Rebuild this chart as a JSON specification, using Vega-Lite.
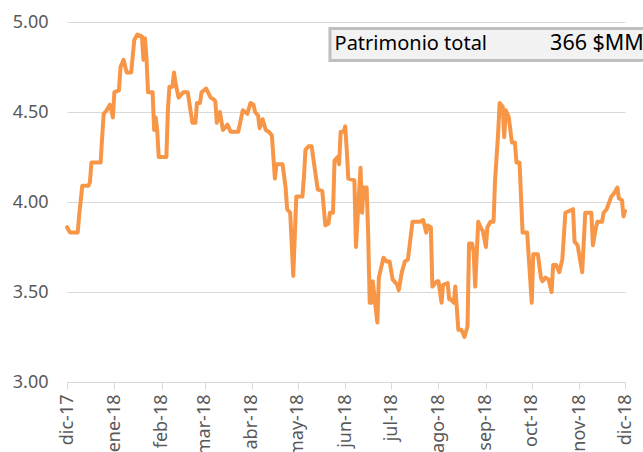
{
  "$schema": "https://vega.github.io/schema/vega-lite/v6.json",
  "width": 558,
  "height": 360,
  "autosize": {"type": "none"},
  "padding": {"left": 67, "top": 22, "right": 18, "bottom": 70},
  "background": "white",
  "config": {"view": {"stroke": null}, "font": "Noto Sans"},
  "datasets": {
    "serie": [
      {"fecha": "2017-12-01T00:00", "valor": 3.86},
      {"fecha": "2017-12-03T00:00", "valor": 3.83},
      {"fecha": "2017-12-08T00:00", "valor": 3.83},
      {"fecha": "2017-12-09T00:00", "valor": 3.93},
      {"fecha": "2017-12-10T00:00", "valor": 4.01},
      {"fecha": "2017-12-11T00:00", "valor": 4.09},
      {"fecha": "2017-12-15T00:00", "valor": 4.09},
      {"fecha": "2017-12-16T00:00", "valor": 4.11},
      {"fecha": "2017-12-17T00:00", "valor": 4.22},
      {"fecha": "2017-12-23T00:00", "valor": 4.22},
      {"fecha": "2017-12-24T00:00", "valor": 4.36},
      {"fecha": "2017-12-25T00:00", "valor": 4.49},
      {"fecha": "2017-12-27T00:00", "valor": 4.51},
      {"fecha": "2017-12-29T00:00", "valor": 4.54},
      {"fecha": "2017-12-30T00:00", "valor": 4.51},
      {"fecha": "2017-12-31T00:00", "valor": 4.47},
      {"fecha": "2018-01-01T00:00", "valor": 4.61},
      {"fecha": "2018-01-04T00:00", "valor": 4.62},
      {"fecha": "2018-01-05T00:00", "valor": 4.75},
      {"fecha": "2018-01-07T00:00", "valor": 4.79},
      {"fecha": "2018-01-09T00:00", "valor": 4.72},
      {"fecha": "2018-01-12T00:00", "valor": 4.72},
      {"fecha": "2018-01-14T00:00", "valor": 4.90},
      {"fecha": "2018-01-16T00:00", "valor": 4.93},
      {"fecha": "2018-01-19T00:00", "valor": 4.92},
      {"fecha": "2018-01-20T00:00", "valor": 4.79},
      {"fecha": "2018-01-21T00:00", "valor": 4.91},
      {"fecha": "2018-01-22T00:00", "valor": 4.80},
      {"fecha": "2018-01-23T00:00", "valor": 4.61},
      {"fecha": "2018-01-26T00:00", "valor": 4.61},
      {"fecha": "2018-01-27T00:00", "valor": 4.40},
      {"fecha": "2018-01-28T00:00", "valor": 4.47},
      {"fecha": "2018-01-29T00:00", "valor": 4.40},
      {"fecha": "2018-01-30T00:00", "valor": 4.25},
      {"fecha": "2018-02-04T00:00", "valor": 4.25},
      {"fecha": "2018-02-05T00:00", "valor": 4.51},
      {"fecha": "2018-02-06T00:00", "valor": 4.64},
      {"fecha": "2018-02-08T00:00", "valor": 4.64},
      {"fecha": "2018-02-09T00:00", "valor": 4.72},
      {"fecha": "2018-02-10T00:00", "valor": 4.66},
      {"fecha": "2018-02-12T00:00", "valor": 4.58},
      {"fecha": "2018-02-15T00:00", "valor": 4.61},
      {"fecha": "2018-02-18T00:00", "valor": 4.61},
      {"fecha": "2018-02-21T00:00", "valor": 4.44},
      {"fecha": "2018-02-23T00:00", "valor": 4.44},
      {"fecha": "2018-02-24T00:00", "valor": 4.55},
      {"fecha": "2018-02-26T00:00", "valor": 4.55},
      {"fecha": "2018-02-27T00:00", "valor": 4.61},
      {"fecha": "2018-03-02T00:00", "valor": 4.63},
      {"fecha": "2018-03-05T00:00", "valor": 4.58},
      {"fecha": "2018-03-07T00:00", "valor": 4.57},
      {"fecha": "2018-03-08T00:00", "valor": 4.56},
      {"fecha": "2018-03-09T00:00", "valor": 4.44},
      {"fecha": "2018-03-11T00:00", "valor": 4.50},
      {"fecha": "2018-03-13T00:00", "valor": 4.40},
      {"fecha": "2018-03-16T00:00", "valor": 4.43},
      {"fecha": "2018-03-18T00:00", "valor": 4.39},
      {"fecha": "2018-03-23T00:00", "valor": 4.39},
      {"fecha": "2018-03-26T00:00", "valor": 4.51},
      {"fecha": "2018-03-29T00:00", "valor": 4.49},
      {"fecha": "2018-03-31T00:00", "valor": 4.55},
      {"fecha": "2018-04-02T00:00", "valor": 4.54},
      {"fecha": "2018-04-03T00:00", "valor": 4.50},
      {"fecha": "2018-04-05T00:00", "valor": 4.48},
      {"fecha": "2018-04-06T00:00", "valor": 4.41},
      {"fecha": "2018-04-08T00:00", "valor": 4.46},
      {"fecha": "2018-04-10T00:00", "valor": 4.40},
      {"fecha": "2018-04-12T00:00", "valor": 4.39},
      {"fecha": "2018-04-14T00:00", "valor": 4.37},
      {"fecha": "2018-04-16T00:00", "valor": 4.13},
      {"fecha": "2018-04-17T00:00", "valor": 4.21},
      {"fecha": "2018-04-21T00:00", "valor": 4.21},
      {"fecha": "2018-04-23T00:00", "valor": 4.08},
      {"fecha": "2018-04-24T00:00", "valor": 3.96},
      {"fecha": "2018-04-26T00:00", "valor": 3.94},
      {"fecha": "2018-04-28T00:00", "valor": 3.59},
      {"fecha": "2018-04-30T00:00", "valor": 4.03},
      {"fecha": "2018-05-04T00:00", "valor": 4.03},
      {"fecha": "2018-05-05T00:00", "valor": 4.14},
      {"fecha": "2018-05-06T00:00", "valor": 4.29},
      {"fecha": "2018-05-08T00:00", "valor": 4.31},
      {"fecha": "2018-05-10T00:00", "valor": 4.31},
      {"fecha": "2018-05-12T00:00", "valor": 4.19},
      {"fecha": "2018-05-14T00:00", "valor": 4.07},
      {"fecha": "2018-05-17T00:00", "valor": 4.06},
      {"fecha": "2018-05-19T00:00", "valor": 3.87},
      {"fecha": "2018-05-21T00:00", "valor": 3.88},
      {"fecha": "2018-05-22T00:00", "valor": 3.94},
      {"fecha": "2018-05-24T00:00", "valor": 3.94},
      {"fecha": "2018-05-25T00:00", "valor": 4.23},
      {"fecha": "2018-05-27T00:00", "valor": 4.25},
      {"fecha": "2018-05-28T00:00", "valor": 4.21},
      {"fecha": "2018-05-29T00:00", "valor": 4.39},
      {"fecha": "2018-05-31T00:00", "valor": 4.39},
      {"fecha": "2018-06-01T00:00", "valor": 4.42},
      {"fecha": "2018-06-02T00:00", "valor": 4.29},
      {"fecha": "2018-06-03T00:00", "valor": 4.13},
      {"fecha": "2018-06-07T00:00", "valor": 4.12},
      {"fecha": "2018-06-08T00:00", "valor": 3.75},
      {"fecha": "2018-06-11T00:00", "valor": 4.19},
      {"fecha": "2018-06-12T00:00", "valor": 3.94},
      {"fecha": "2018-06-13T00:00", "valor": 4.08},
      {"fecha": "2018-06-15T00:00", "valor": 4.08},
      {"fecha": "2018-06-16T00:00", "valor": 3.82},
      {"fecha": "2018-06-17T00:00", "valor": 3.44},
      {"fecha": "2018-06-18T00:00", "valor": 3.44},
      {"fecha": "2018-06-19T00:00", "valor": 3.56},
      {"fecha": "2018-06-22T00:00", "valor": 3.33},
      {"fecha": "2018-06-23T00:00", "valor": 3.58},
      {"fecha": "2018-06-26T00:00", "valor": 3.69},
      {"fecha": "2018-06-28T00:00", "valor": 3.67},
      {"fecha": "2018-06-30T00:00", "valor": 3.67},
      {"fecha": "2018-07-02T00:00", "valor": 3.57},
      {"fecha": "2018-07-05T00:00", "valor": 3.54},
      {"fecha": "2018-07-06T00:00", "valor": 3.51},
      {"fecha": "2018-07-08T00:00", "valor": 3.61},
      {"fecha": "2018-07-10T00:00", "valor": 3.67},
      {"fecha": "2018-07-12T00:00", "valor": 3.68},
      {"fecha": "2018-07-15T00:00", "valor": 3.89},
      {"fecha": "2018-07-20T00:00", "valor": 3.89},
      {"fecha": "2018-07-22T00:00", "valor": 3.90},
      {"fecha": "2018-07-24T00:00", "valor": 3.83},
      {"fecha": "2018-07-25T00:00", "valor": 3.87},
      {"fecha": "2018-07-27T00:00", "valor": 3.86},
      {"fecha": "2018-07-28T00:00", "valor": 3.53},
      {"fecha": "2018-07-31T00:00", "valor": 3.56},
      {"fecha": "2018-08-01T00:00", "valor": 3.56},
      {"fecha": "2018-08-03T00:00", "valor": 3.44},
      {"fecha": "2018-08-04T00:00", "valor": 3.54},
      {"fecha": "2018-08-07T00:00", "valor": 3.55},
      {"fecha": "2018-08-08T00:00", "valor": 3.46},
      {"fecha": "2018-08-09T00:00", "valor": 3.46},
      {"fecha": "2018-08-11T00:00", "valor": 3.44},
      {"fecha": "2018-08-12T00:00", "valor": 3.53},
      {"fecha": "2018-08-14T00:00", "valor": 3.29},
      {"fecha": "2018-08-16T00:00", "valor": 3.29},
      {"fecha": "2018-08-18T00:00", "valor": 3.25},
      {"fecha": "2018-08-20T00:00", "valor": 3.31},
      {"fecha": "2018-08-21T00:00", "valor": 3.77},
      {"fecha": "2018-08-23T00:00", "valor": 3.77},
      {"fecha": "2018-08-24T00:00", "valor": 3.72},
      {"fecha": "2018-08-25T00:00", "valor": 3.53},
      {"fecha": "2018-08-27T00:00", "valor": 3.89},
      {"fecha": "2018-08-29T00:00", "valor": 3.85},
      {"fecha": "2018-08-30T00:00", "valor": 3.84},
      {"fecha": "2018-09-01T00:00", "valor": 3.75},
      {"fecha": "2018-09-02T00:00", "valor": 3.86},
      {"fecha": "2018-09-04T00:00", "valor": 3.89},
      {"fecha": "2018-09-06T00:00", "valor": 3.89},
      {"fecha": "2018-09-07T00:00", "valor": 4.12},
      {"fecha": "2018-09-09T00:00", "valor": 4.38},
      {"fecha": "2018-09-10T00:00", "valor": 4.55},
      {"fecha": "2018-09-12T00:00", "valor": 4.53},
      {"fecha": "2018-09-13T00:00", "valor": 4.36},
      {"fecha": "2018-09-14T00:00", "valor": 4.51},
      {"fecha": "2018-09-16T00:00", "valor": 4.47},
      {"fecha": "2018-09-17T00:00", "valor": 4.40},
      {"fecha": "2018-09-18T00:00", "valor": 4.33},
      {"fecha": "2018-09-20T00:00", "valor": 4.33},
      {"fecha": "2018-09-21T00:00", "valor": 4.22},
      {"fecha": "2018-09-23T00:00", "valor": 4.22},
      {"fecha": "2018-09-25T00:00", "valor": 3.83},
      {"fecha": "2018-09-28T00:00", "valor": 3.83},
      {"fecha": "2018-10-01T00:00", "valor": 3.44},
      {"fecha": "2018-10-02T00:00", "valor": 3.71},
      {"fecha": "2018-10-05T00:00", "valor": 3.71},
      {"fecha": "2018-10-07T00:00", "valor": 3.58},
      {"fecha": "2018-10-08T00:00", "valor": 3.56},
      {"fecha": "2018-10-10T00:00", "valor": 3.58},
      {"fecha": "2018-10-12T00:00", "valor": 3.57},
      {"fecha": "2018-10-14T00:00", "valor": 3.50},
      {"fecha": "2018-10-15T00:00", "valor": 3.65},
      {"fecha": "2018-10-17T00:00", "valor": 3.65},
      {"fecha": "2018-10-19T00:00", "valor": 3.61},
      {"fecha": "2018-10-21T00:00", "valor": 3.68},
      {"fecha": "2018-10-23T00:00", "valor": 3.94},
      {"fecha": "2018-10-28T00:00", "valor": 3.96},
      {"fecha": "2018-10-29T00:00", "valor": 3.78},
      {"fecha": "2018-10-31T00:00", "valor": 3.76},
      {"fecha": "2018-11-03T00:00", "valor": 3.61},
      {"fecha": "2018-11-05T00:00", "valor": 3.94},
      {"fecha": "2018-11-09T00:00", "valor": 3.94},
      {"fecha": "2018-11-10T00:00", "valor": 3.76},
      {"fecha": "2018-11-12T00:00", "valor": 3.86},
      {"fecha": "2018-11-13T00:00", "valor": 3.89},
      {"fecha": "2018-11-16T00:00", "valor": 3.89},
      {"fecha": "2018-11-17T00:00", "valor": 3.94},
      {"fecha": "2018-11-19T00:00", "valor": 3.96},
      {"fecha": "2018-11-22T00:00", "valor": 4.03},
      {"fecha": "2018-11-24T00:00", "valor": 4.05},
      {"fecha": "2018-11-26T00:00", "valor": 4.08},
      {"fecha": "2018-11-27T00:00", "valor": 4.02},
      {"fecha": "2018-11-29T00:00", "valor": 4.01},
      {"fecha": "2018-11-30T00:00", "valor": 3.92},
      {"fecha": "2018-12-01T00:00", "valor": 3.95}
    ],
    "caja": [
      {"desde": "2018-05-22T00:00", "hasta": "2018-12-25T00:00", "arriba": 4.964, "abajo": 4.786}
    ],
    "titulo": [
      {"fecha": "2018-05-25T00:00", "valor": 4.878, "texto": "Patrimonio total"}
    ],
    "monto": [
      {"fecha": "2018-10-13T00:00", "valor": 4.878, "texto": "366 $MM"}
    ]
  },
  "layer": [
    {
      "data": {"name": "serie"},
      "mark": {"type": "line", "color": "#F79646", "strokeWidth": 4, "strokeJoin": "round", "strokeCap": "round"},
      "encoding": {
        "x": {
          "field": "fecha", "type": "temporal", "title": null,
          "scale": {"domain": [{"year": 2017, "month": 12, "date": 1}, {"year": 2018, "month": 12, "date": 1}]},
          "axis": {
            "values": [
              {"year": 2017, "month": 12, "date": 1}, {"year": 2018, "month": 1, "date": 1},
              {"year": 2018, "month": 2, "date": 1}, {"year": 2018, "month": 3, "date": 1},
              {"year": 2018, "month": 4, "date": 1}, {"year": 2018, "month": 5, "date": 1},
              {"year": 2018, "month": 6, "date": 1}, {"year": 2018, "month": 7, "date": 1},
              {"year": 2018, "month": 8, "date": 1}, {"year": 2018, "month": 9, "date": 1},
              {"year": 2018, "month": 10, "date": 1}, {"year": 2018, "month": 11, "date": 1},
              {"year": 2018, "month": 12, "date": 1}
            ],
            "labelExpr": "['ene','feb','mar','abr','may','jun','jul','ago','sep','oct','nov','dic'][month(datum.value)] + '-' + timeFormat(datum.value, '%y')",
            "labelAngle": -90, "labelAlign": "right", "labelBaseline": "middle",
            "labelFontSize": 18, "labelColor": "#595959", "labelPadding": 5,
            "labelFlush": false, "labelOverlap": false,
            "tickColor": "#D9D9D9", "tickSize": 7, "tickWidth": 1,
            "domainColor": "#D9D9D9", "domainWidth": 1, "grid": false
          }
        },
        "y": {
          "field": "valor", "type": "quantitative", "title": null,
          "scale": {"domain": [3, 5]},
          "axis": {
            "values": [3, 3.5, 4, 4.5, 5], "format": ".2f",
            "labelFontSize": 18, "labelColor": "#595959", "labelPadding": 19,
            "labelFlush": false, "domain": false, "ticks": false,
            "grid": true, "gridColor": "#D9D9D9", "gridWidth": 1
          }
        }
      }
    },
    {
      "data": {"name": "caja"},
      "mark": {"type": "rect", "fill": "#F2F2F2", "stroke": "#BFBFBF", "strokeWidth": 3},
      "encoding": {
        "x": {"field": "desde", "type": "temporal", "title": null, "scale": {"domain": [{"year": 2017, "month": 12, "date": 1}, {"year": 2018, "month": 12, "date": 1}]}},
        "x2": {"field": "hasta"},
        "y": {"field": "arriba", "type": "quantitative", "title": null, "scale": {"domain": [3, 5]}},
        "y2": {"field": "abajo"}
      }
    },
    {
      "data": {"name": "titulo"},
      "mark": {"type": "text", "align": "left", "baseline": "middle", "fontSize": 20, "color": "#000000"},
      "encoding": {
        "x": {"field": "fecha", "type": "temporal", "title": null, "scale": {"domain": [{"year": 2017, "month": 12, "date": 1}, {"year": 2018, "month": 12, "date": 1}]}},
        "y": {"field": "valor", "type": "quantitative", "title": null, "scale": {"domain": [3, 5]}},
        "text": {"field": "texto"}
      }
    },
    {
      "data": {"name": "monto"},
      "mark": {"type": "text", "align": "left", "baseline": "middle", "fontSize": 21.5, "color": "#000000"},
      "encoding": {
        "x": {"field": "fecha", "type": "temporal", "title": null, "scale": {"domain": [{"year": 2017, "month": 12, "date": 1}, {"year": 2018, "month": 12, "date": 1}]}},
        "y": {"field": "valor", "type": "quantitative", "title": null, "scale": {"domain": [3, 5]}},
        "text": {"field": "texto"}
      }
    }
  ]
}
